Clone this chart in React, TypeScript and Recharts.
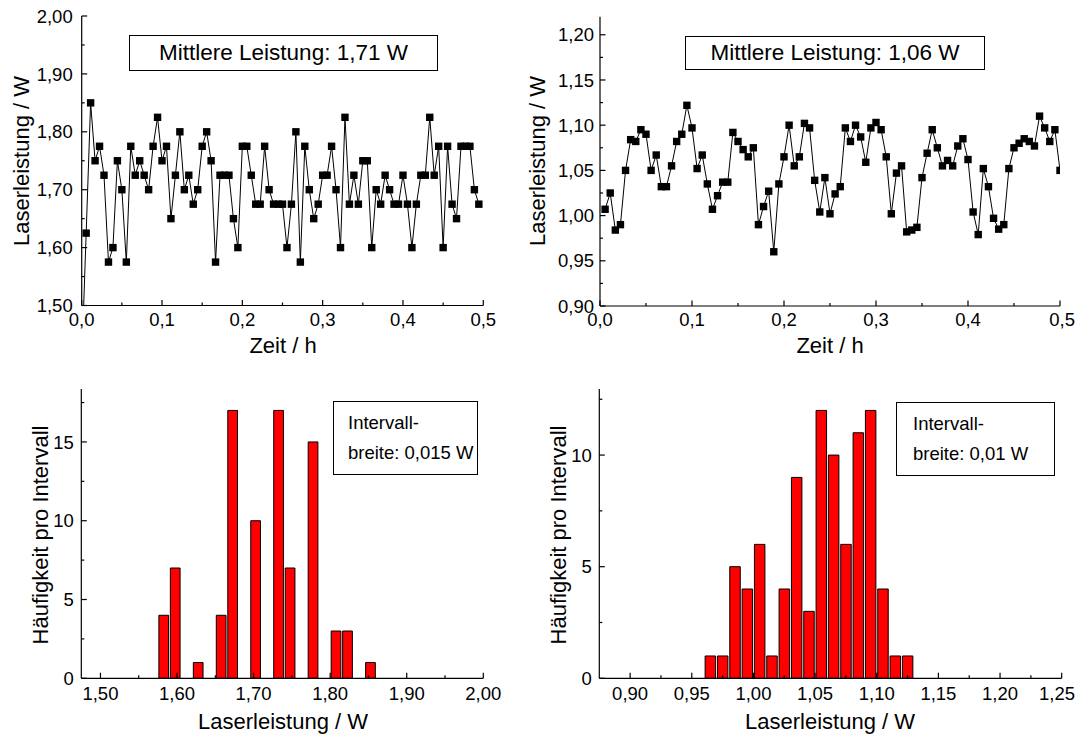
import React from 'react';
import { LineChart, Line, BarChart, Bar, XAxis, YAxis } from 'recharts';

const FONT = '"Liberation Sans", Arial, Helvetica, sans-serif';
const W = 1077;
const H = 737;

// Sampling interval of the power log: one reading every 20 s, in hours
const SAMPLE_H = 1 / 180;

// Laser 1: logged power in W (first reading is the switch-on value below the scale)
const powerLaser1: number[] = [
  1.40, 1.625, 1.85, 1.75, 1.775, 1.725, 1.575, 1.60, 1.75, 1.70,
  1.575, 1.775, 1.725, 1.75, 1.725, 1.70, 1.775, 1.825, 1.75, 1.775,
  1.65, 1.725, 1.80, 1.70, 1.725, 1.675, 1.70, 1.775, 1.80, 1.75,
  1.575, 1.725, 1.725, 1.725, 1.65, 1.60, 1.775, 1.775, 1.725, 1.675,
  1.675, 1.775, 1.70, 1.675, 1.675, 1.675, 1.60, 1.675, 1.80, 1.575,
  1.775, 1.70, 1.65, 1.675, 1.725, 1.725, 1.775, 1.70, 1.60, 1.825,
  1.675, 1.725, 1.675, 1.75, 1.75, 1.60, 1.70, 1.675, 1.725, 1.70,
  1.675, 1.675, 1.725, 1.675, 1.60, 1.675, 1.725, 1.725, 1.825, 1.725,
  1.775, 1.60, 1.775, 1.675, 1.65, 1.775, 1.775, 1.775, 1.70, 1.675,
];

// Laser 2: logged power in W (starts with the first 20 s reading)
const powerLaser2: number[] = [
  1.007, 1.025, 0.984, 0.990, 1.050, 1.084, 1.082, 1.095, 1.090, 1.050,
  1.067, 1.032, 1.032, 1.055, 1.082, 1.090, 1.122, 1.097, 1.052, 1.067,
  1.035, 1.007, 1.022, 1.037, 1.037, 1.092, 1.082, 1.073, 1.065, 1.075,
  0.990, 1.010, 1.027, 0.960, 1.035, 1.065, 1.100, 1.055, 1.065, 1.102,
  1.097, 1.039, 1.004, 1.042, 1.002, 1.024, 1.032, 1.097, 1.082, 1.100,
  1.087, 1.059, 1.097, 1.103, 1.095, 1.065, 1.002, 1.047, 1.055, 0.982,
  0.984, 0.987, 1.042, 1.069, 1.095, 1.075, 1.055, 1.061, 1.055, 1.077,
  1.085, 1.062, 1.004, 0.979, 1.052, 1.032, 0.997, 0.985, 0.990, 1.052,
  1.075, 1.080, 1.085, 1.082, 1.077, 1.110, 1.097, 1.082, 1.095, 1.050,
];

// Histogram laser 1: interval centres (width 0,015 W) and counts
const hist1Centers: number[] = [1.5825, 1.5975, 1.6275, 1.6575, 1.6725, 1.7025, 1.7325, 1.7475, 1.7775, 1.8075, 1.8225, 1.8525];
const hist1Counts: number[] = [4, 7, 1, 4, 17, 10, 17, 7, 15, 3, 3, 1];

// Histogram laser 2: interval centres (width 0,01 W) and counts
const hist2Centers: number[] = [0.965, 0.975, 0.985, 0.995, 1.005, 1.015, 1.025, 1.035, 1.045, 1.055, 1.065, 1.075, 1.085, 1.095, 1.105, 1.115, 1.125];
const hist2Counts: number[] = [1, 1, 5, 4, 6, 1, 4, 9, 3, 12, 10, 6, 11, 12, 4, 1, 1];

// Axis ticks
const timeMajor = [0, 0.1, 0.2, 0.3, 0.4, 0.5];
const timeMinor = [0.05, 0.15, 0.25, 0.35, 0.45];
const p1Major = [1.5, 1.6, 1.7, 1.8, 1.9, 2.0];
const p1Minor = [1.55, 1.65, 1.75, 1.85, 1.95];
const p2Major = [0.9, 0.95, 1.0, 1.05, 1.1, 1.15, 1.2];
const p2Minor = [0.925, 0.975, 1.025, 1.075, 1.125, 1.175];
const h1xMajor = [1.5, 1.6, 1.7, 1.8, 1.9, 2.0];
const h1xMinor = [1.55, 1.65, 1.75, 1.85, 1.95];
const h2xMajor = [0.9, 0.95, 1.0, 1.05, 1.1, 1.15, 1.2, 1.25];
const h2xMinor = [0.925, 0.975, 1.025, 1.075, 1.125, 1.175, 1.225];
const h1yMajor = [0, 5, 10, 15];
const h1yMinor = [2.5, 7.5, 12.5, 17.5];
const h2yMajor = [0, 5, 10];
const h2yMinor = [2.5, 7.5, 12.5];

const series1 = powerLaser1.map((p, i) => ({ t: i * SAMPLE_H, p }));
const series2 = powerLaser2.map((p, i) => ({ t: (i + 1) * SAMPLE_H, p }));
const hist1 = hist1Centers.map((c, i) => ({ c, n: hist1Counts[i] }));
const hist2 = hist2Centers.map((c, i) => ({ c, n: hist2Counts[i] }));

const MAJOR_LEN = 5.5;
const MINOR_LEN = 3;
const TICK_FONT = 18.5;
const AXIS_STROKE = 1.2;
// rough half width of a four-character tick label such as "1,25"
const HALF_LABEL = TICK_FONT * 0.98;

const comma = (d: number) => (v: number) => v.toFixed(d).replace('.', ',');

type Side = 'bottom' | 'top' | 'left' | 'right';

function tickRenderer(side: Side, majors: number[], fmt: ((v: number) => string) | null, gap = 0) {
  return (props: any) => {
    const { x, y, payload, index } = props;
    const v = Number(payload.value);
    const major = majors.some((m) => Math.abs(m - v) < 1e-6);
    const len = major ? MAJOR_LEN : MINOR_LEN;
    let line: React.ReactNode = null;
    let label: React.ReactNode = null;
    const ls = { stroke: '#000', strokeWidth: AXIS_STROKE };
    if (side === 'bottom') {
      line = <line x1={x} y1={y} x2={x} y2={y - len} {...ls} />;
      if (major && fmt) {
        // keep the outermost label inside the page
        const overflow = x + HALF_LABEL > W - 2;
        label = (
          <text x={overflow ? W - 2 : x} y={y + gap} textAnchor={overflow ? 'end' : 'middle'} fontSize={TICK_FONT} fontFamily={FONT} fill="#000">
            {fmt(v)}
          </text>
        );
      }
    } else if (side === 'top') {
      line = <line x1={x} y1={y} x2={x} y2={y + len} {...ls} />;
    } else if (side === 'left') {
      line = <line x1={x} y1={y} x2={x + len} y2={y} {...ls} />;
      if (major && fmt) label = <text x={x - gap} y={y + TICK_FONT * 0.36} textAnchor="end" fontSize={TICK_FONT} fontFamily={FONT} fill="#000">{fmt(v)}</text>;
    } else {
      line = <line x1={x} y1={y} x2={x - len} y2={y} {...ls} />;
    }
    return <g key={`${side}-${index}`}>{line}{label}</g>;
  };
}

interface Rect { l: number; t: number; r: number; b: number; }
const LEFT_W = 70;
const BOTTOM_H = 40;
const marginFor = (p: Rect) => ({ left: p.l - LEFT_W, top: p.t, right: W - p.r, bottom: H - p.b - BOTTOM_H });

interface FrameCfg {
  xDomain: [number, number]; xMajor: number[]; xMinor: number[]; xFmt: (v: number) => string; xGap: number;
  yDomain: [number, number]; yMajor: number[]; yMinor: number[]; yFmt: (v: number) => string; yGap: number;
}

function frameAxes(c: FrameCfg) {
  const xt = [...c.xMajor, ...c.xMinor].sort((a, b) => a - b);
  const yt = [...c.yMajor, ...c.yMinor].sort((a, b) => a - b);
  const axisLine = { stroke: '#000', strokeWidth: AXIS_STROKE };
  return [
    <XAxis key="xb" xAxisId="b" dataKey="x" type="number" orientation="bottom" domain={c.xDomain} allowDataOverflow ticks={xt} interval={0} height={BOTTOM_H} tickSize={0} tickMargin={0} tickLine={false} axisLine={axisLine} tick={tickRenderer('bottom', c.xMajor, c.xFmt, c.xGap)} />,
    <XAxis key="xt" xAxisId="t" type="number" orientation="top" domain={c.xDomain} allowDataOverflow ticks={xt} interval={0} height={0} tickSize={0} tickMargin={0} tickLine={false} axisLine={axisLine} tick={tickRenderer('top', c.xMajor, null)} />,
    <YAxis key="yl" yAxisId="l" type="number" orientation="left" domain={c.yDomain} allowDataOverflow ticks={yt} interval={0} width={LEFT_W} tickSize={0} tickMargin={0} tickLine={false} axisLine={axisLine} tick={tickRenderer('left', c.yMajor, c.yFmt, c.yGap)} />,
    <YAxis key="yr" yAxisId="r" type="number" orientation="right" domain={c.yDomain} allowDataOverflow ticks={yt} interval={0} width={0} tickSize={0} tickMargin={0} tickLine={false} axisLine={axisLine} tick={tickRenderer('right', c.yMajor, null)} />,
  ];
}

const squareDot = (props: any) => {
  const { cx, cy, index } = props;
  if (cx == null || cy == null) return <g key={`d${index}`} />;
  return <rect key={`d${index}`} x={cx - 3.7} y={cy - 3.7} width={7.4} height={7.4} fill="#000" />;
};

const abs: React.CSSProperties = { position: 'absolute', left: 0, top: 0 };

function Title({ text, cx, cy, rotate = false }: { text: string; cx: number; cy: number; rotate?: boolean }) {
  return (
    <div style={{
      position: 'absolute', left: cx, top: cy, transform: `translate(-50%, -50%)${rotate ? ' rotate(-90deg)' : ''}`,
      whiteSpace: 'nowrap', fontFamily: FONT, fontSize: 22, lineHeight: 1, color: '#000',
    }}>{text}</div>
  );
}

function Box({ l, t, r, b, lines, pad, size, center = false }: { l: number; t: number; r: number; b: number; lines: string[]; pad: number; size: number; center?: boolean }) {
  return (
    <div style={{
      position: 'absolute', left: l, top: t, width: r - l, height: b - t, boxSizing: 'border-box',
      border: '1.5px solid #000', background: '#fff', fontFamily: FONT, fontSize: size, lineHeight: '30px',
      display: 'flex', flexDirection: 'column', justifyContent: 'center', alignItems: center ? 'center' : 'flex-start',
      paddingLeft: center ? 0 : pad, color: '#000', whiteSpace: 'nowrap',
    }}>
      {lines.map((s) => <div key={s}>{s}</div>)}
    </div>
  );
}

const plotTL: Rect = { l: 81.7, t: 16, r: 483.3, b: 305.5 };
const plotTR: Rect = { l: 600, t: 16.7, r: 1060, b: 306 };
const plotBL: Rect = { l: 81.3, t: 389, r: 483.3, b: 678.3 };
const plotBR: Rect = { l: 599.3, t: 389, r: 1061.7, b: 678.3 };

const H1_DOMAIN: [number, number] = [1.475, 2.0];
const H2_DOMAIN: [number, number] = [0.875, 1.25];
const barPx = (p: Rect, dom: [number, number], width: number) => ((p.r - p.l) * width) / (dom[1] - dom[0]);

export default function App() {
  return (
    <div style={{ position: 'absolute', left: 0, top: 0, width: W, height: H, background: '#fff', overflow: 'hidden' }}>
      <div style={abs}>
        <LineChart width={W} height={H} data={series1.map((d) => ({ x: d.t, p: d.p }))} margin={marginFor(plotTL)}>
          {frameAxes({ xDomain: [0, 0.5], xMajor: timeMajor, xMinor: timeMinor, xFmt: comma(1), xGap: 20,
            yDomain: [1.5, 2.0], yMajor: p1Major, yMinor: p1Minor, yFmt: comma(2), yGap: 9 })}
          <Line xAxisId="b" yAxisId="l" dataKey="p" stroke="#000" strokeWidth={1} dot={squareDot} activeDot={false} isAnimationActive={false} />
        </LineChart>
      </div>
      <div style={abs}>
        <LineChart width={W} height={H} data={series2.map((d) => ({ x: d.t, p: d.p }))} margin={marginFor(plotTR)}>
          {frameAxes({ xDomain: [0, 0.5], xMajor: timeMajor, xMinor: timeMinor, xFmt: comma(1), xGap: 20,
            yDomain: [0.9, 1.22], yMajor: p2Major, yMinor: p2Minor, yFmt: comma(2), yGap: 6 })}
          <Line xAxisId="b" yAxisId="l" dataKey="p" stroke="#000" strokeWidth={1} dot={squareDot} activeDot={false} isAnimationActive={false} />
        </LineChart>
      </div>
      <div style={abs}>
        <BarChart width={W} height={H} data={hist1.map((d) => ({ x: d.c, n: d.n }))} margin={marginFor(plotBL)}>
          {frameAxes({ xDomain: H1_DOMAIN, xMajor: h1xMajor, xMinor: h1xMinor, xFmt: comma(2), xGap: 21.5,
            yDomain: [0, 18.36], yMajor: h1yMajor, yMinor: h1yMinor, yFmt: comma(0), yGap: 7.5 })}
          <Bar xAxisId="b" yAxisId="l" dataKey="n" fill="#ff0000" stroke="#000" strokeWidth={1} barSize={barPx(plotBL, H1_DOMAIN, 0.0127)} isAnimationActive={false} />
        </BarChart>
      </div>
      <div style={abs}>
        <BarChart width={W} height={H} data={hist2.map((d) => ({ x: d.c, n: d.n }))} margin={marginFor(plotBR)}>
          {frameAxes({ xDomain: H2_DOMAIN, xMajor: h2xMajor, xMinor: h2xMinor, xFmt: comma(2), xGap: 21.5,
            yDomain: [0, 12.96], yMajor: h2yMajor, yMinor: h2yMinor, yFmt: comma(0), yGap: 7.5 })}
          <Bar xAxisId="b" yAxisId="l" dataKey="n" fill="#ff0000" stroke="#000" strokeWidth={1} barSize={barPx(plotBR, H2_DOMAIN, 0.0085)} isAnimationActive={false} />
        </BarChart>
      </div>

      <Title text="Laserleistung / W" cx={21.5} cy={161} rotate />
      <Title text="Laserleistung / W" cx={538} cy={161} rotate />
      <Title text="Zeit / h" cx={283} cy={346} />
      <Title text="Zeit / h" cx={830} cy={346} />
      <Title text="Häufigkeit pro Intervall" cx={41} cy={535} rotate />
      <Title text="Häufigkeit pro Intervall" cx={559} cy={535} rotate />
      <Title text="Laserleistung / W" cx={283} cy={722} />
      <Title text="Laserleistung / W" cx={830} cy={722} />

      <Box l={129} t={35} r={438} b={71} lines={['Mittlere Leistung: 1,71 W']} pad={0} size={22.5} center />
      <Box l={685} t={36} r={985} b={69.5} lines={['Mittlere Leistung: 1,06 W']} pad={0} size={22.5} center />
      <Box l={333} t={401} r={478} b={475} lines={['Intervall-', 'breite: 0,015 W']} pad={14} size={18.5} />
      <Box l={896} t={402} r={1055} b={476} lines={['Intervall-', 'breite: 0,01 W']} pad={16} size={18.5} />
    </div>
  );
}
